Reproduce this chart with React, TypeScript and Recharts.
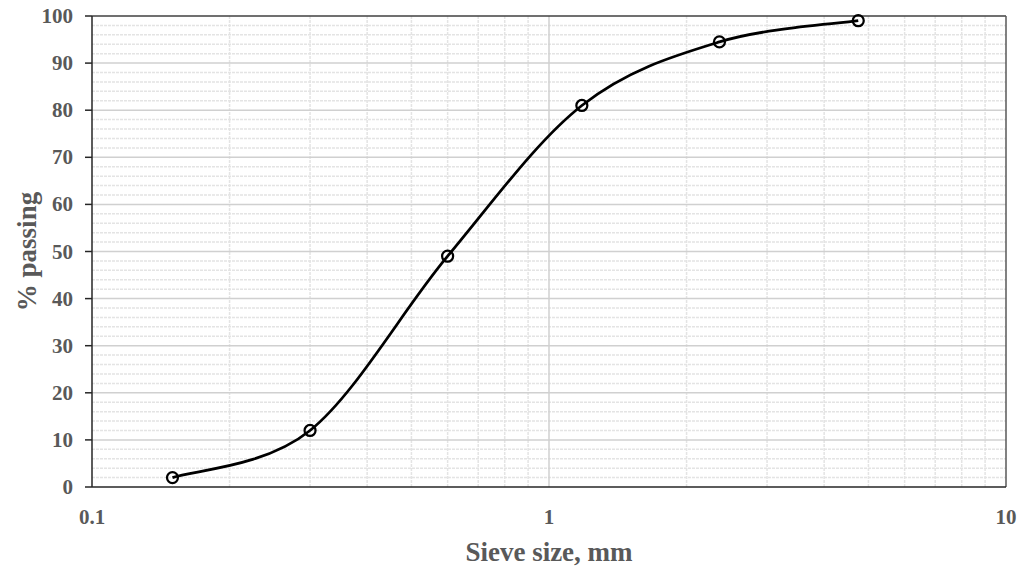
import {
  CartesianGrid,
  Line,
  LineChart,
  ReferenceLine,
  XAxis,
  YAxis,
} from "recharts";

// sieve analysis — % passing vs sieve opening
const SIEVE_MM = [0.15, 0.3, 0.6, 1.18, 2.36, 4.75];
const PASSING = [2, 12, 49, 81, 94.5, 99];

const X_TICKS = [0.1, 1, 10];
const Y_TICKS = [0, 10, 20, 30, 40, 50, 60, 70, 80, 90, 100];
const X_MINOR = [0.2, 0.3, 0.4, 0.5, 0.6, 0.7, 0.8, 0.9, 2, 3, 4, 5, 6, 7, 8, 9];
const X_MAJOR = [1];
const Y_MINOR = [2, 4, 6, 8, 12, 14, 16, 18, 22, 24, 26, 28, 32, 34, 36, 38, 42, 44, 46, 48, 52, 54, 56, 58, 62, 64, 66, 68, 72, 74, 76, 78, 82, 84, 86, 88, 92, 94, 96, 98];
const Y_MAJOR = [10, 20, 30, 40, 50, 60, 70, 80, 90];

const rows = SIEVE_MM.map((s, i) => ({ size: s, passing: PASSING[i] }));

const TEXT = "#595959";
const FONT = '"Liberation Serif", "Times New Roman", serif';

// Excel-style smoothed line (Catmull-Rom through the points)
function excelCurve(ctx: any) {
  let pts: [number, number][] = [];
  return {
    areaStart() {},
    areaEnd() {},
    lineStart() {
      pts = [];
    },
    point(x: number, y: number) {
      pts.push([+x, +y]);
    },
    lineEnd() {
      if (!pts.length) return;
      ctx.moveTo(pts[0][0], pts[0][1]);
      for (let i = 0; i < pts.length - 1; i++) {
        const p0 = pts[Math.max(0, i - 1)];
        const p1 = pts[i];
        const p2 = pts[i + 1];
        const p3 = pts[Math.min(pts.length - 1, i + 2)];
        ctx.bezierCurveTo(
          p1[0] + (p2[0] - p0[0]) / 6,
          p1[1] + (p2[1] - p0[1]) / 6,
          p2[0] - (p3[0] - p1[0]) / 6,
          p2[1] - (p3[1] - p1[1]) / 6,
          p2[0],
          p2[1]
        );
      }
    },
  };
}

function XTick({ x, y, payload }: any) {
  return (
    <text
      x={x}
      y={y + 29}
      textAnchor="middle"
      fill={TEXT}
      fontFamily={FONT}
      fontWeight="bold"
      fontSize={21}
    >
      {payload.value}
    </text>
  );
}

function YTick({ x, y, payload }: any) {
  return (
    <text
      x={x}
      y={y + 7}
      textAnchor="end"
      fill={TEXT}
      fontFamily={FONT}
      fontWeight="bold"
      fontSize={21}
    >
      {payload.value}
    </text>
  );
}

function YTitle({ viewBox }: any) {
  const cx = 27;
  const cy = viewBox.y + viewBox.height / 2;
  return (
    <text
      x={cx}
      y={cy}
      transform={`rotate(-90 ${cx} ${cy})`}
      textAnchor="middle"
      dominantBaseline="central"
      fill={TEXT}
      fontFamily={FONT}
      fontWeight="bold"
      fontSize={27}
    >
      % passing
    </text>
  );
}

export default function App() {
  return (
    <div style={{ position: "absolute", left: 0, top: 0, width: 1019, height: 567, background: "#fff" }}>
      <LineChart
        width={1019}
        height={567}
        data={rows}
        margin={{ top: 16, right: 13, left: 0, bottom: 0 }}
      >
        <CartesianGrid stroke="none" />
        {Y_MINOR.map((v) => (
          <ReferenceLine key={"ym" + v} y={v} stroke="#e4e4e4" strokeWidth={1.5} strokeDasharray="3 1" />
        ))}
        {X_MINOR.map((v) => (
          <ReferenceLine key={"xm" + v} x={v} stroke="#e4e4e4" strokeWidth={1.5} strokeDasharray="3 1" />
        ))}
        {Y_MAJOR.map((v) => (
          <ReferenceLine key={"yM" + v} y={v} stroke="#d0d0d0" strokeWidth={1.5} />
        ))}
        {X_MAJOR.map((v) => (
          <ReferenceLine key={"xM" + v} x={v} stroke="#d0d0d0" strokeWidth={1.5} />
        ))}
        <ReferenceLine y={100} stroke="#404040" strokeWidth={1.5} />
        <ReferenceLine x={10} stroke="#595959" strokeWidth={1.5} />
        <XAxis
          dataKey="size"
          type="number"
          scale="log"
          domain={[0.1, 10]}
          ticks={X_TICKS}
          allowDataOverflow
          height={80}
          tickLine={false}
          axisLine={{ stroke: "#262626", strokeWidth: 1.5 }}
          tick={<XTick />}
          label={{
            value: "Sieve size, mm",
            position: "insideBottom",
            offset: 6,
            fill: TEXT,
            fontFamily: FONT,
            fontWeight: "bold",
            fontSize: 27,
          }}
        />
        <YAxis
          type="number"
          domain={[0, 100]}
          ticks={Y_TICKS}
          interval={0}
          width={92}
          tickSize={7}
          tickMargin={12}
          tickLine={{ stroke: "#262626", strokeWidth: 1.5 }}
          axisLine={{ stroke: "#262626", strokeWidth: 1.5 }}
          tick={<YTick />}
          label={<YTitle />}
        />
        <Line
          dataKey="passing"
          type={excelCurve as any}
          stroke="#000"
          strokeWidth={2.75}
          dot={{ r: 5.5, stroke: "#000", strokeWidth: 2.25, fill: "none" }}
          activeDot={false}
          isAnimationActive={false}
        />
      </LineChart>
    </div>
  );
}
